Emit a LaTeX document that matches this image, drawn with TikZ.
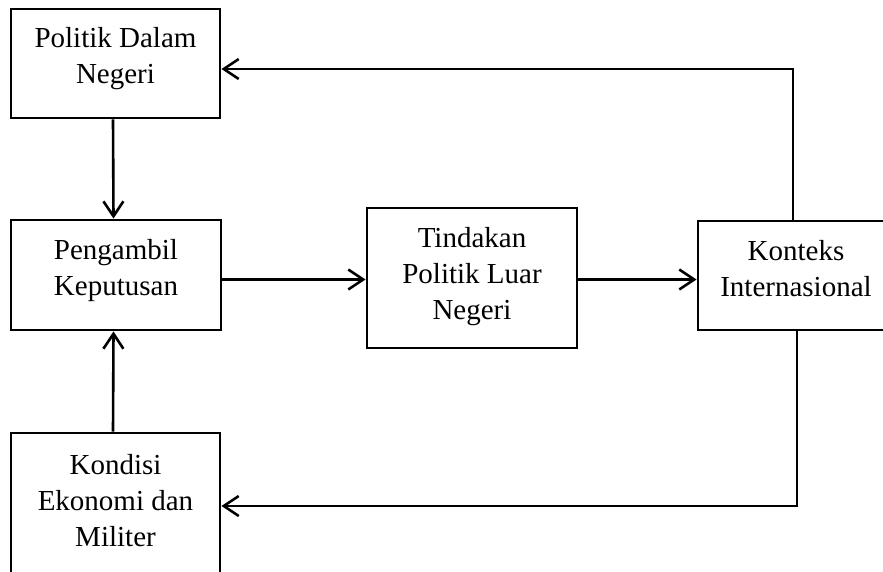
\documentclass[tikz,border=0pt]{standalone}
\usepackage{fontspec}
\setmainfont{Liberation Serif}
\usetikzlibrary{arrows.meta,calc}
\begin{document}
\begin{tikzpicture}[x=1pt,y=-1pt,
  box/.style={draw,line width=2.8pt,inner sep=0pt,rectangle},
  txt/.style={anchor=north,inner sep=0pt,align=center,font=\fontsize{29}{36}\selectfont},
  conn/.style={line width=2.6pt,-{Straight Barb[length=15pt,width=20pt,line width=2.6pt]}},
  seg/.style={line width=2.6pt}]
\useasboundingbox (0,0) rectangle (883,571);
\fill[white] (0,0) rectangle (883,571);
% boxes
\node[box,minimum width=209pt,minimum height=109pt] (pdn) at (115.5,63.5) {};
\node[box,minimum width=210pt,minimum height=110pt] (pk) at (116,275) {};
\node[box,minimum width=210pt,minimum height=140pt] (tpl) at (472,278) {};
\node[box,minimum width=230pt,minimum height=109pt] (ki) at (813,275.5) {};
\node[box,minimum width=209pt,minimum height=170pt] (kem) at (115.5,518) {};
% texts
\node[txt] (pdnt) at (115.5,27) {Politik Dalam\\Negeri};
\node[txt] (pkt) at (116,239.5) {Pengambil\\Keputusan};
\node[txt] (tplt) at (472,227) {Tindakan\\Politik Luar\\Negeri};
\node[txt] (kit) at (796,240) {Konteks\\Internasional};
\node[txt] (kemt) at (115.5,454) {Kondisi\\Ekonomi dan\\Militer};
% connectors
\draw[conn] ([xshift=-2.5pt]pdn.south) -- ([xshift=-2.5pt]pk.north);
\draw[conn] ([xshift=-2.5pt]kem.north) -- ([xshift=-2.5pt]pk.south);
\coordinate (a1) at (pk.east |- 0,279.5);
\draw[conn] (a1) -- (tpl.west |- a1);
\coordinate (a2) at (tpl.east |- 0,279.5);
\draw[conn] (a2) -- (ki.west |- a2);
\coordinate (ktop) at (ki.north -| 793,0);
\coordinate (ctop) at (793,69);
\draw[conn] (ktop) -- (ctop) -- (pdn.east |- ctop);
\coordinate (kbot) at (ki.south -| 797,0);
\coordinate (cbot) at (797,506);
\draw[conn] (kbot) -- (cbot) -- (kem.east |- cbot);
\end{tikzpicture}
\end{document}
